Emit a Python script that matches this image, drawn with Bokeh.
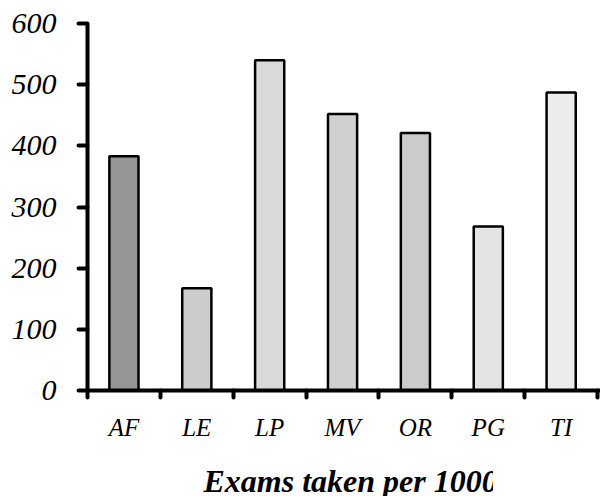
from bokeh.plotting import figure
from bokeh.models import Range1d, FixedTicker, Label, ColumnDataSource
from bokeh.layouts import column
from bokeh.embed import file_html
from bokeh.resources import INLINE

categories = ["AF", "LE", "LP", "MV", "OR", "PG", "TI"]
values = [383, 167, 540, 452, 421, 268, 487]
bar_colors = ["#969696", "#cccccc", "#d9d9d9", "#d0d0d0", "#cbcbcb", "#e3e3e3", "#ececec"]
y_ticks = [0, 100, 200, 300, 400, 500, 600]
x_title = "Exams taken per 1000"

SERIF = "Liberation Serif"

centers = [i + 0.5 for i in range(len(categories))]
bounds = list(range(len(categories) + 1))

src = ColumnDataSource(dict(x=centers, top=values, color=bar_colors, cat=categories))

p = figure(width=600, height=445, output_backend="svg", toolbar_location=None,
           x_range=Range1d(0, 7.04), y_range=Range1d(0, 600),
           min_border_left=87, min_border_right=0, min_border_top=23, min_border_bottom=55)
p.outline_line_color = None
p.xgrid.visible = False
p.ygrid.visible = False
p.background_fill_color = "white"

p.vbar(x="x", top="top", width=0.40, fill_color="color", line_color="black",
       line_width=2.5, source=src)

# y axis
ya = p.yaxis[0]
ya.ticker = FixedTicker(ticks=y_ticks)
ya.axis_line_width = 4
ya.axis_line_color = "black"
ya.major_tick_in = 0
ya.major_tick_out = 9
ya.major_tick_line_width = 4
ya.major_tick_line_cap = "round"
ya.minor_tick_line_color = None
ya.major_label_standoff = 22
ya.major_label_text_font = SERIF
ya.major_label_text_font_style = "italic"
ya.major_label_text_font_size = "30px"
ya.major_label_text_color = "black"

# x axis
xa = p.xaxis[0]
xa.ticker = FixedTicker(ticks=centers, minor_ticks=bounds)
xa.major_label_overrides = {c: n for c, n in zip(centers, categories)}
xa.axis_line_width = 4
xa.axis_line_color = "black"
xa.major_tick_in = 0
xa.major_tick_out = 0
xa.major_tick_line_color = None
xa.minor_tick_in = 0
xa.minor_tick_out = 7
xa.minor_tick_line_width = 4
xa.minor_tick_line_color = "black"
xa.minor_tick_line_cap = "round"
xa.major_label_standoff = 16
xa.major_label_text_font = SERIF
xa.major_label_text_font_style = "italic"
xa.major_label_text_font_size = "25px"
xa.major_label_text_color = "black"

# title strip (clipped at its right edge like the reference)
p2 = figure(width=493, height=51, output_backend="svg", toolbar_location=None,
            x_axis_location=None, y_axis_location=None, min_border=0,
            x_range=Range1d(0, 1), y_range=Range1d(0, 1))
p2.outline_line_color = None
p2.xgrid.visible = False
p2.ygrid.visible = False
p2.add_layout(Label(x=116, y=16, x_units="screen", y_units="screen", text=x_title,
                    text_font=SERIF, text_font_style="bold italic",
                    text_font_size="32px", text_color="black",
                    text_baseline="alphabetic"))

layout = column(p, p2, spacing=0)
open("out.html", "w").write(file_html(layout, INLINE))
